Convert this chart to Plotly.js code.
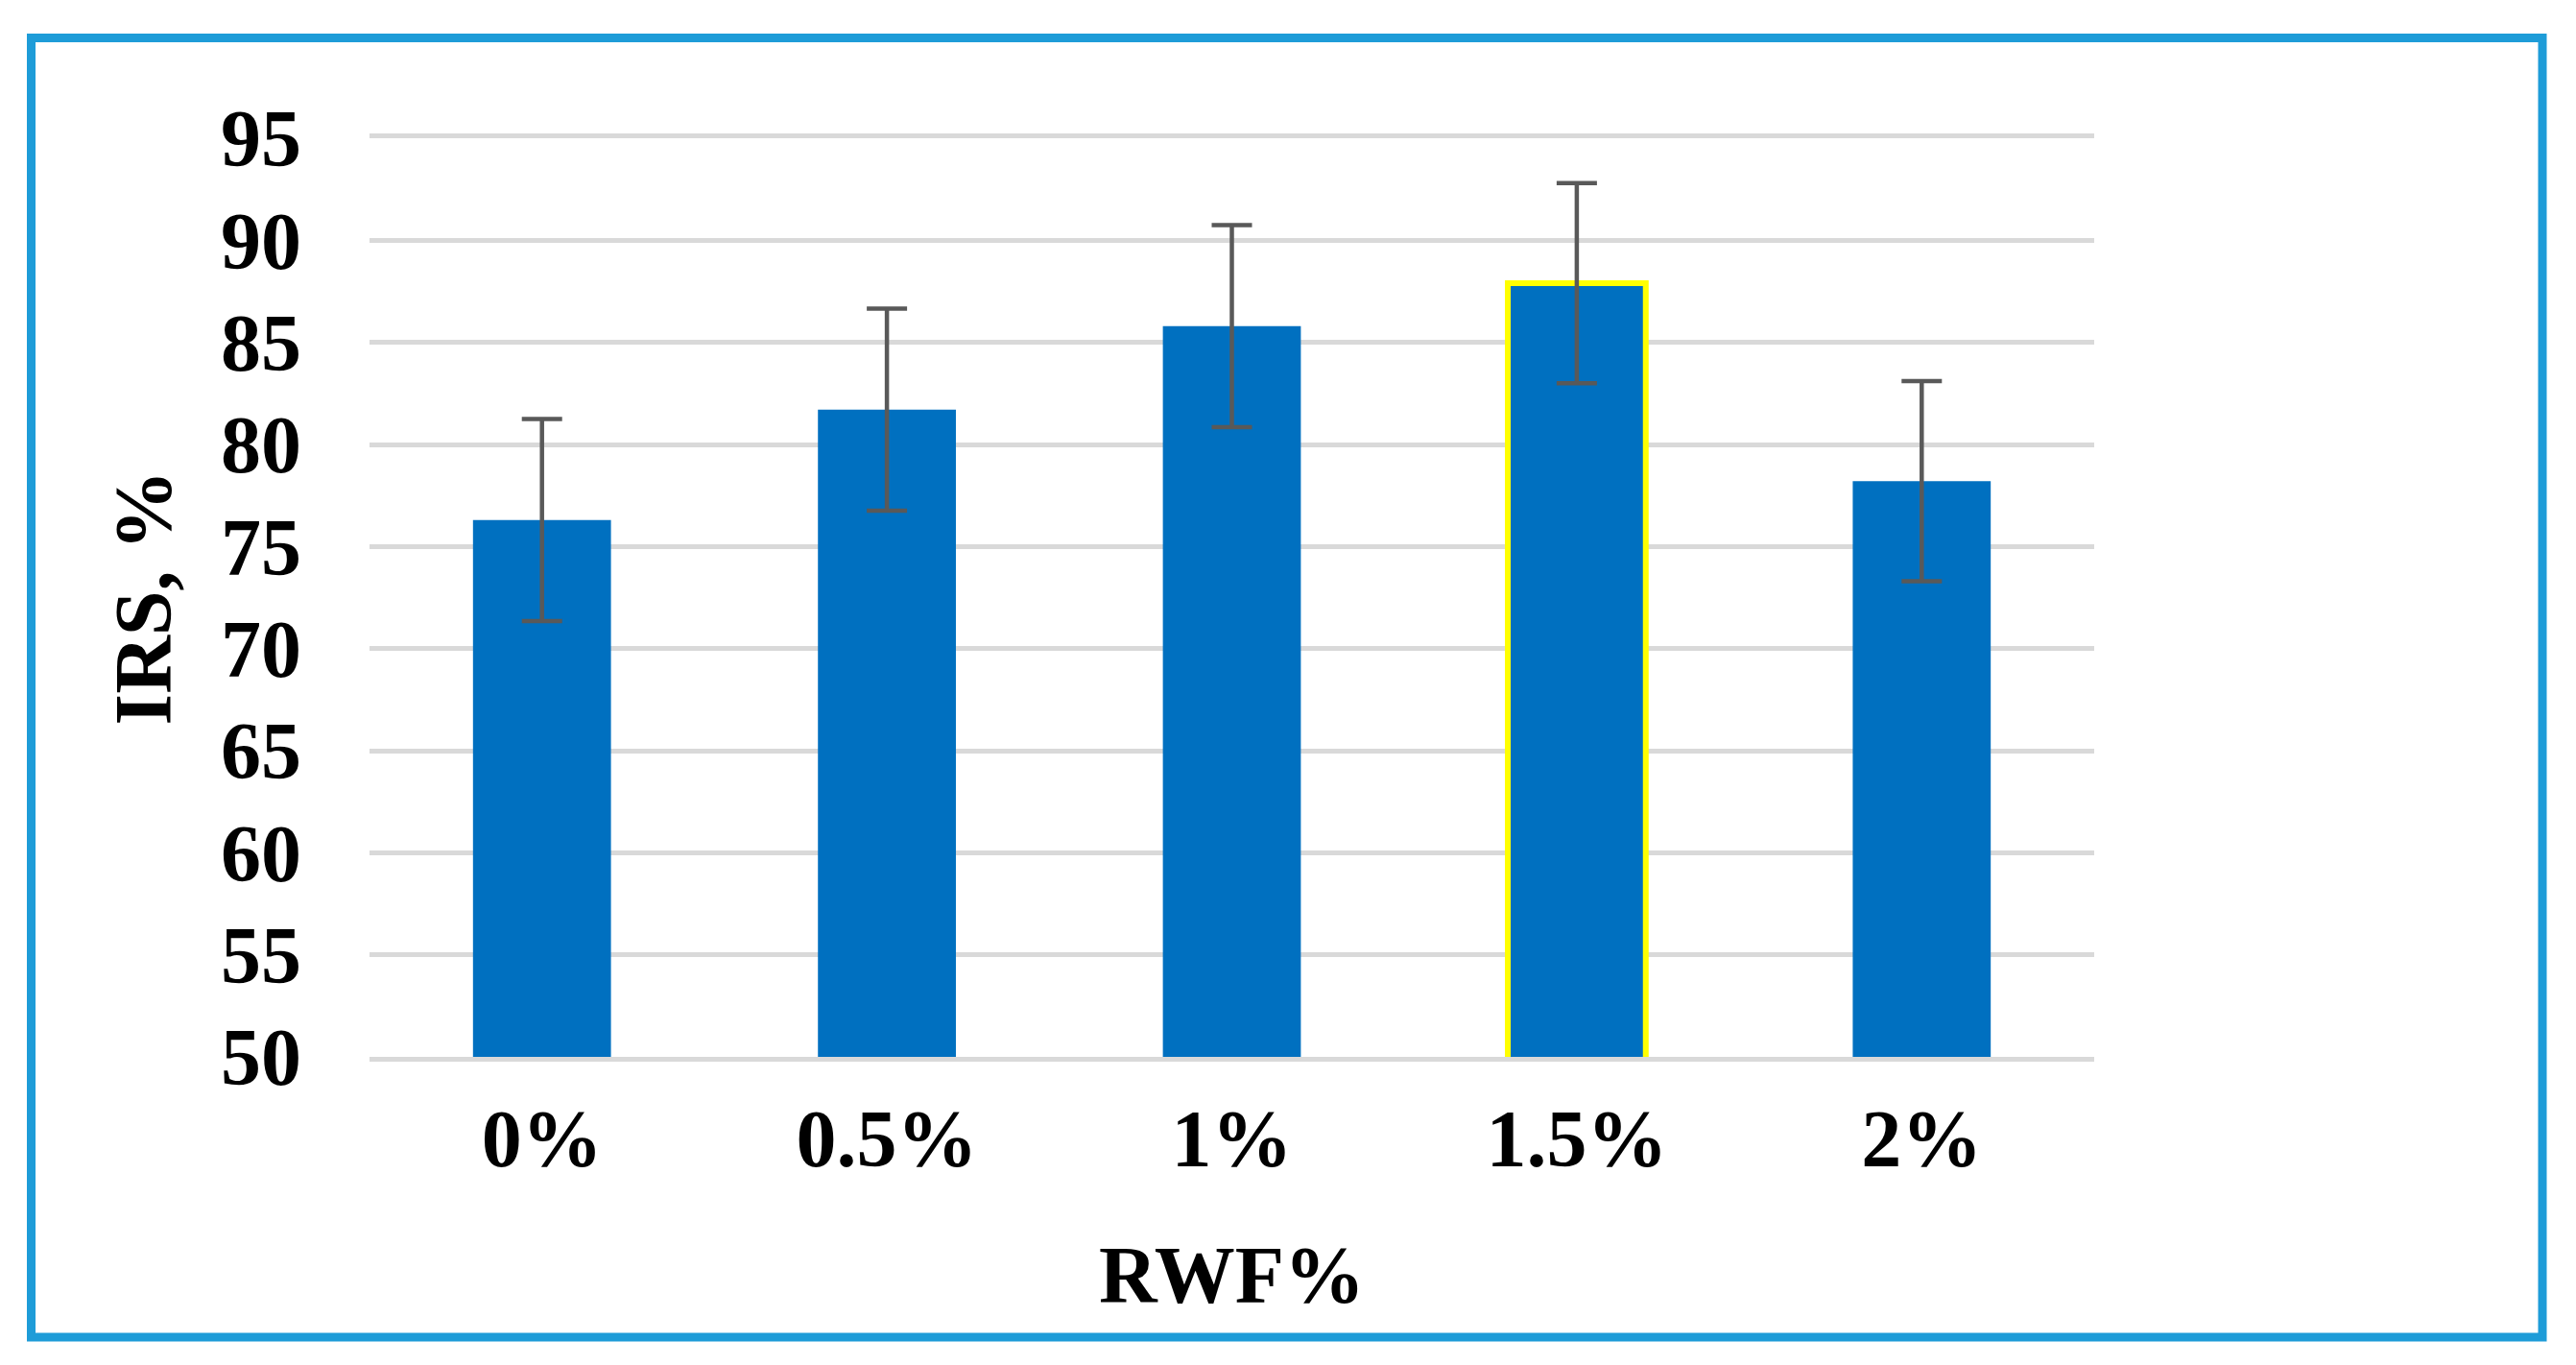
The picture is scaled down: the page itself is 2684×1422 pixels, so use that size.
<!DOCTYPE html>
<html>
<head>
<meta charset="utf-8">
<script src="https://cdn.plot.ly/plotly-3.0.1.min.js"></script>
<style>
  html, body { margin: 0; padding: 0; background: #ffffff; }
  #chart { width: 2684px; height: 1422px; }
</style>
</head>
<body>
<div id="chart"></div>
<script>
// ---- data ----
const categories = ['0%', '0.5%', '1%', '1.5%', '2%'];
const irsValues = [76.3, 81.7, 85.8, 87.9, 78.2];
const irsErrors = [4.95, 4.95, 4.95, 4.9, 4.9];
const yTickValues = [50, 55, 60, 65, 70, 75, 80, 85, 90, 95];
const highlightedCategory = '1.5%';

// ---- layout geometry ----
const W = 2684, H = 1422;
const M = { l: 385, r: 502, t: 144, b: 321 };
const plotW = W - M.l - M.r, plotH = H - M.t - M.b;
const px2x = p => (p - M.l) / plotW;
const px2y = p => (H - M.b - p) / plotH;

const FONT = 'Liberation Serif, Times New Roman, serif';
const frameColor = '#1E9CD8';
const gridColor = '#D9D9D9';

const trace = {
  type: 'bar',
  x: categories,
  y: irsValues,
  marker: {
    color: '#0070C0',
    line: {
      color: categories.map(c => c === highlightedCategory ? '#FFFF00' : 'rgba(0,0,0,0)'),
      width: categories.map(c => c === highlightedCategory ? 6 : 0)
    }
  },
  error_y: {
    type: 'data',
    array: irsErrors,
    visible: true,
    color: '#595959',
    thickness: 4.5,
    width: 21
  },
  hoverinfo: 'x+y'
};

const layout = {
  width: W,
  height: H,
  margin: M,
  paper_bgcolor: '#ffffff',
  plot_bgcolor: '#ffffff',
  showlegend: false,
  bargap: 0.6,
  font: { family: FONT, size: 84, color: '#000000', weight: 'bold' },
  xaxis: {
    type: 'category',
    showgrid: false,
    zeroline: false,
    showline: true,
    mirror: true,
    linecolor: gridColor,
    linewidth: 5,
    ticks: '',
    ticklabelstandoff: 8,
    tickfont: { family: FONT, size: 84, color: '#000000', weight: 'bold' },
    title: {
      text: 'RWF%',
      font: { family: FONT, size: 84, color: '#000000', weight: 'bold' },
      standoff: 68
    }
  },
  yaxis: {
    range: [50, 95],
    tickvals: yTickValues,
    ticktext: yTickValues.map(String),
    showgrid: true,
    gridcolor: gridColor,
    gridwidth: 5,
    zeroline: false,
    showline: false,
    ticks: '',
    ticklabelstandoff: 70,
    tickfont: { family: FONT, size: 84, color: '#000000', weight: 'bold' },
    title: {
      text: 'IRS, %',
      font: { family: FONT, size: 84, color: '#000000', weight: 'bold' },
      standoff: 23
    }
  },
  shapes: [{
    type: 'rect',
    xref: 'paper', yref: 'paper',
    x0: px2x(32.5), x1: px2x(2649),
    y0: px2y(1393), y1: px2y(39.5),
    line: { color: frameColor, width: 9 },
    fillcolor: 'rgba(0,0,0,0)',
    layer: 'above'
  }]
};

Plotly.newPlot('chart', [trace], layout, { staticPlot: true, displayModeBar: false });
</script>
</body>
</html>
